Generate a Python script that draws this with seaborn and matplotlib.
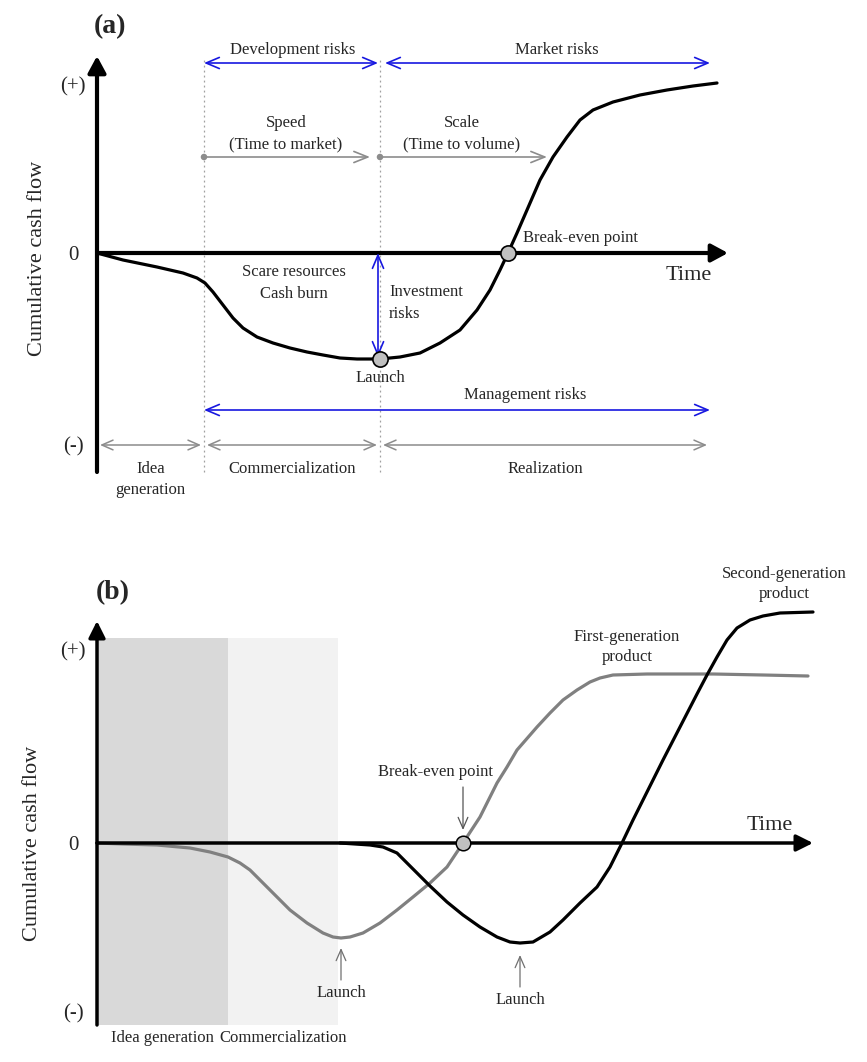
import matplotlib
matplotlib.use('Agg')
import matplotlib.pyplot as plt
import seaborn as sns

sns.set_style('white')
plt.rcParams['font.family'] = ['Liberation Serif', 'DejaVu Serif']

# ---- panel (a): one product, cumulative cash flow over time (arbitrary units)
time_a = [0, 26, 60, 86, 100, 108, 116, 126, 136, 146, 160, 176, 193, 210, 226, 243,
          260, 283, 303, 323, 343, 363, 380, 393, 403, 411, 420, 430, 443, 456, 470,
          483, 496, 516, 543, 570, 596, 620]
cash_a = [0, -7, -14, -20, -25, -30, -39, -52, -65, -75, -84, -90, -95, -99, -102, -105,
          -106, -106, -104, -100, -90, -77, -57, -37, -17, 0, 20, 43, 73, 96, 116,
          133, 143, 151, 158, 163, 167, 170]
launch_a = [283, -106]
breakeven_a = [411, 0]
phase_edges_a = [0, 107, 283, 613]
phase_labels_a = ['Idea\ngeneration', 'Commercialization', 'Realization']
levels_a = [168, 0, -192]
level_labels = ['(+)', '0', '(-)']

# ---- panel (b): first and second generation products
time_first = [0, 26, 60, 93, 113, 131, 143, 153, 163, 173, 183, 193, 210, 226, 236, 244,
              253, 266, 283, 300, 316, 333, 350, 366, 383, 400, 410, 420, 440, 453,
              466, 480, 493, 503, 516, 550, 616, 666, 711]
cash_first = [0, -1, -2, -5, -9, -14, -20, -27, -37, -47, -57, -67, -80, -90, -94, -95,
              -94, -90, -80, -67, -54, -40, -24, 0, 26, 60, 76, 93, 116, 130,
              143, 153, 161, 165, 168, 169, 169, 168, 167]
time_second = [243, 273, 286, 300, 310, 320, 333, 350, 366, 383, 400, 413, 423, 436,
               453, 466, 483, 500, 513, 525, 536, 550, 566, 583, 600, 610, 620, 630,
               640, 653, 666, 683, 716]
cash_second = [0, -2, -4, -10, -20, -30, -43, -59, -72, -84, -94, -99, -100, -99,
               -89, -77, -60, -44, -24, 0, 23, 51, 83, 116, 149, 168, 186, 203,
               215, 223, 227, 230, 231]
breakeven_b = [366, 0]
launch_b_time = [244, 423]
launch_b_cash = [-102, -109]
phase_edges_b = [0, 131, 241]
phase_labels_b = ['Idea generation', 'Commercialization']
phase_colors_b = ['#d9d9d9', '#f2f2f2']
levels_b = [193, 0, -169]

BLUE = '#1818e0'
GRAY = '#8c8c8c'


def arrow(ax, x0, y0, x1, y1, style='<->', color=BLUE, lw=1.2, hl=0.95, hw=0.4, ms=10):
    ax.annotate('', xy=(x1, y1), xytext=(x0, y0),
                arrowprops=dict(arrowstyle=f'{style},head_length={hl},head_width={hw}',
                                color=color, lw=lw, shrinkA=0, shrinkB=0,
                                mutation_scale=ms))


fig = plt.figure(figsize=(8.67, 10.62), dpi=100)
ax_a = fig.add_axes([0, 0.5, 1, 0.5])
ax_b = fig.add_axes([0, 0, 1, 0.5])
for ax in (ax_a, ax_b):
    ax.set_axis_off()
ax_a.set_xlim(-97, 770)
ax_a.set_ylim(-278, 253)
ax_b.set_xlim(-97, 770)
ax_b.set_ylim(-219, 312)

# ================= panel (a)
ax = ax_a
for x in phase_edges_a[1:3]:
    ax.plot([x, x], [-219, 195], color='#a0a0a0', lw=0.9, ls=(0, (1.5, 2.5)))

arrow(ax, 0, -219, 0, 197, style='-|>', color='k', lw=3, hl=0.5, hw=0.27, ms=20)
arrow(ax, 0, 0, 631, 0, style='-|>', color='k', lw=3, hl=0.5, hw=0.27, ms=20)

sns.lineplot(x=time_a, y=cash_a, ax=ax, color='k', linewidth=2.3, sort=False,
             estimator=None, solid_joinstyle='round')

# risk arrows
arrow(ax, phase_edges_a[1], 190, phase_edges_a[2] - 2, 190)
arrow(ax, phase_edges_a[2] + 5, 190, phase_edges_a[3], 190)
arrow(ax, phase_edges_a[1], -157, phase_edges_a[3], -157)
arrow(ax, launch_a[0] - 2, 0, launch_a[0] - 2, launch_a[1] + 2)

# speed / scale arrows
for x0, x1 in [(phase_edges_a[1], 273), (phase_edges_a[2], 450)]:
    arrow(ax, x0, 96, x1, 96, style='->', color=GRAY, lw=1.2, hl=1.0, hw=0.4)
sns.scatterplot(x=[phase_edges_a[1], phase_edges_a[2]], y=[96, 96], ax=ax,
                color=GRAY, s=22, edgecolor='none', zorder=5)

# phase arrows along the bottom
for x0, x1 in zip(phase_edges_a[:-1], phase_edges_a[1:]):
    arrow(ax, x0 + 3, -192, x1 - 3, -192, color=GRAY, lw=1.1, hl=0.8, hw=0.35)

sns.scatterplot(x=[launch_a[0], breakeven_a[0]], y=[launch_a[1], breakeven_a[1]],
                ax=ax, color='#c0c0c0', s=120, edgecolor='k', linewidth=1.2, zorder=6)

fs = 12
ax.text(13, 226, '(a)', fontsize=20, fontweight='bold', ha='center', va='center')
ax.text(196, 203, 'Development risks', fontsize=fs, ha='center', va='center')
ax.text(460, 203, 'Market risks', fontsize=fs, ha='center', va='center')
ax.text(189, 119, 'Speed\n(Time to market)', fontsize=fs, ha='center', va='center',
        linespacing=1.45)
ax.text(365, 119, 'Scale\n(Time to volume)', fontsize=fs, ha='center', va='center',
        linespacing=1.45)
ax.text(197, -30, 'Scare resources\nCash burn', fontsize=fs, ha='center', va='center',
        linespacing=1.45)
ax.text(292, -50, 'Investment\nrisks', fontsize=fs, ha='left', va='center',
        linespacing=1.45)
ax.text(launch_a[0], -125, 'Launch', fontsize=fs, ha='center', va='center')
ax.text(426, 15, 'Break-even point', fontsize=fs, ha='left', va='center')
ax.text(428, -142, 'Management risks', fontsize=fs, ha='center', va='center')
ax.text(592, -22, 'Time', fontsize=16, ha='center', va='center')
ax.text(-59, -5, 'Cumulative cash flow', fontsize=16, rotation=90,
        ha='center', va='center')
for y, lab in zip(levels_a, level_labels):
    ax.text(-24, y - 2, lab, fontsize=15, ha='center', va='center')
for x0, x1, lab in zip(phase_edges_a[:-1], phase_edges_a[1:], phase_labels_a):
    ax.text((x0 + x1) / 2, -208, lab, fontsize=fs, ha='center', va='top',
            linespacing=1.45)

# ================= panel (b)
ax = ax_b
for x0, x1, col in zip(phase_edges_b[:-1], phase_edges_b[1:], phase_colors_b):
    ax.fill_between([x0, x1], -182, 205, color=col, lw=0)

arrow(ax, 0, -182, 0, 222, style='-|>', color='k', lw=2.5, hl=0.5, hw=0.25, ms=20)
arrow(ax, 0, 0, 716, 0, style='-|>', color='k', lw=2.5, hl=0.5, hw=0.25, ms=20)

sns.lineplot(x=time_first, y=cash_first, ax=ax, color='#808080', linewidth=2.3,
             sort=False, estimator=None, solid_joinstyle='round')
sns.lineplot(x=time_second, y=cash_second, ax=ax, color='k', linewidth=2.3,
             sort=False, estimator=None, solid_joinstyle='round')

sns.scatterplot(x=[breakeven_b[0]], y=[breakeven_b[1]], ax=ax, color='#c0c0c0',
                s=110, edgecolor='k', linewidth=1.1, zorder=6)

arrow(ax, breakeven_b[0], 56, breakeven_b[0], 13, style='->', color='#555555',
      lw=0.9, hl=0.8, hw=0.35)
for t, c in zip(launch_b_time, launch_b_cash):
    arrow(ax, t, c - 35, t, c - 3, style='->', color='#707070', lw=0.9, hl=0.8, hw=0.35)
    ax.text(t, c - 48, 'Launch', fontsize=fs, ha='center', va='center')

ax.text(16, 250, '(b)', fontsize=20, fontweight='bold', ha='center', va='center')
ax.text(338, 71, 'Break-even point', fontsize=fs, ha='center', va='center')
ax.text(530, 196, 'First-generation\nproduct', fontsize=fs, ha='center', va='center',
        linespacing=1.3)
ax.text(687, 259, 'Second-generation\nproduct', fontsize=fs, ha='center', va='center',
        linespacing=1.3)
ax.text(673, 18, 'Time', fontsize=16, ha='center', va='center')
ax.text(-64, 0, 'Cumulative cash flow', fontsize=16, rotation=90,
        ha='center', va='center')
for y, lab in zip(levels_b, level_labels):
    ax.text(-24, y - 2, lab, fontsize=15, ha='center', va='center')
for x0, x1, lab in zip(phase_edges_b[:-1], phase_edges_b[1:], phase_labels_b):
    ax.text((x0 + x1) / 2, -195, lab, fontsize=fs, ha='center', va='center')

fig.savefig('out.png', dpi=100)
